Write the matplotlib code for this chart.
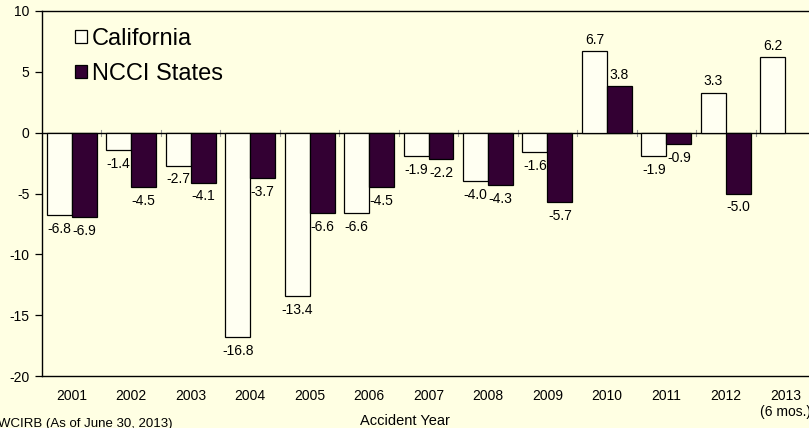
import matplotlib
matplotlib.use("Agg")
import matplotlib.pyplot as plt
from matplotlib.patches import Patch
import numpy as np

years = ["2001", "2002", "2003", "2004", "2005", "2006", "2007", "2008",
         "2009", "2010", "2011", "2012", "2013\n(6 mos.)"]
california = [-6.8, -1.4, -2.7, -16.8, -13.4, -6.6, -1.9, -4.0, -1.6, 6.7, -1.9, 3.3, 6.2]
ncci = [-6.9, -4.5, -4.1, -3.7, -6.6, -4.5, -2.2, -4.3, -5.7, 3.8, -0.9, -5.0, None]

plt.rcParams['font.family'] = ['Liberation Sans', 'DejaVu Sans']
plt.rcParams['axes.unicode_minus'] = False
BG = '#FFFFE3'
WHITE_BAR = '#FFFFF2'
DARK_BAR = '#330033'

fig = plt.figure(figsize=(8.09, 4.28), dpi=100, facecolor=BG)
ax = fig.add_axes([42/809, 1-376/428, 773/809, 365/428], facecolor=BG)

x = np.arange(len(years))
w = 0.42
cal_x = x - w/2
ncci_x = x + w/2
ax.bar(cal_x, california, width=w, color=WHITE_BAR, edgecolor='black', linewidth=0.9, zorder=3)
nx = [xi for xi, v in zip(ncci_x, ncci) if v is not None]
nv = [v for v in ncci if v is not None]
ax.bar(nx, nv, width=w, color=DARK_BAR, edgecolor='black', linewidth=0.9, zorder=3)

def label(xs, vs):
    for xi, v in zip(xs, vs):
        off = 8 if v >= 0 else -10
        ax.annotate(f"{v:.1f}", (xi, v), xytext=(0, off), textcoords='offset points',
                    ha='center', va='center', fontsize=10, color='black', zorder=4)

label(cal_x, california)
label(nx, nv)

ax.set_xlim(-0.5, len(years) - 0.5)
ax.set_ylim(-20, 10)
ax.set_yticks([-20, -15, -10, -5, 0, 5, 10])
ax.set_xticks(x)
ax.set_xticklabels(years, fontsize=10)
ax.tick_params(axis='x', length=0, pad=9)
ax.tick_params(axis='y', length=5, width=0.9, pad=4, labelsize=10, direction='out')

for s in ['left', 'top', 'bottom']:
    ax.spines[s].set_linewidth(1.0)
    ax.spines[s].set_color('black')
ax.spines['right'].set_visible(False)

# zero line with category-boundary ticks
ax.axhline(0, color='black', linewidth=1.0, zorder=2)
for b in np.arange(0.5, len(years) - 0.5, 1.0):
    ax.plot([b, b], [-0.25, 0.25], color='#999999', linewidth=0.8, zorder=1)

ax.set_xlabel("Accident Year", fontsize=10.5, labelpad=2)
ax.xaxis.set_label_coords(0.47, -0.105)

handles = [Patch(facecolor=WHITE_BAR, edgecolor='black', linewidth=0.9),
           Patch(facecolor=DARK_BAR, edgecolor='black', linewidth=0.9)]
ax.legend(handles, ["California", "NCCI States"], loc='upper left',
          bbox_to_anchor=((75-42)/773, (376-28)/365), frameon=False, fontsize=17,
          handlelength=0.5, handleheight=0.5, handletextpad=0.2, labelspacing=0.55,
          borderpad=0, borderaxespad=0)

fig.text(-0.003, 1-424/428, "WCIRB (As of June 30, 2013)", fontsize=9.5, ha='left', va='center')

fig.savefig("out.png", dpi=100, facecolor=BG)
